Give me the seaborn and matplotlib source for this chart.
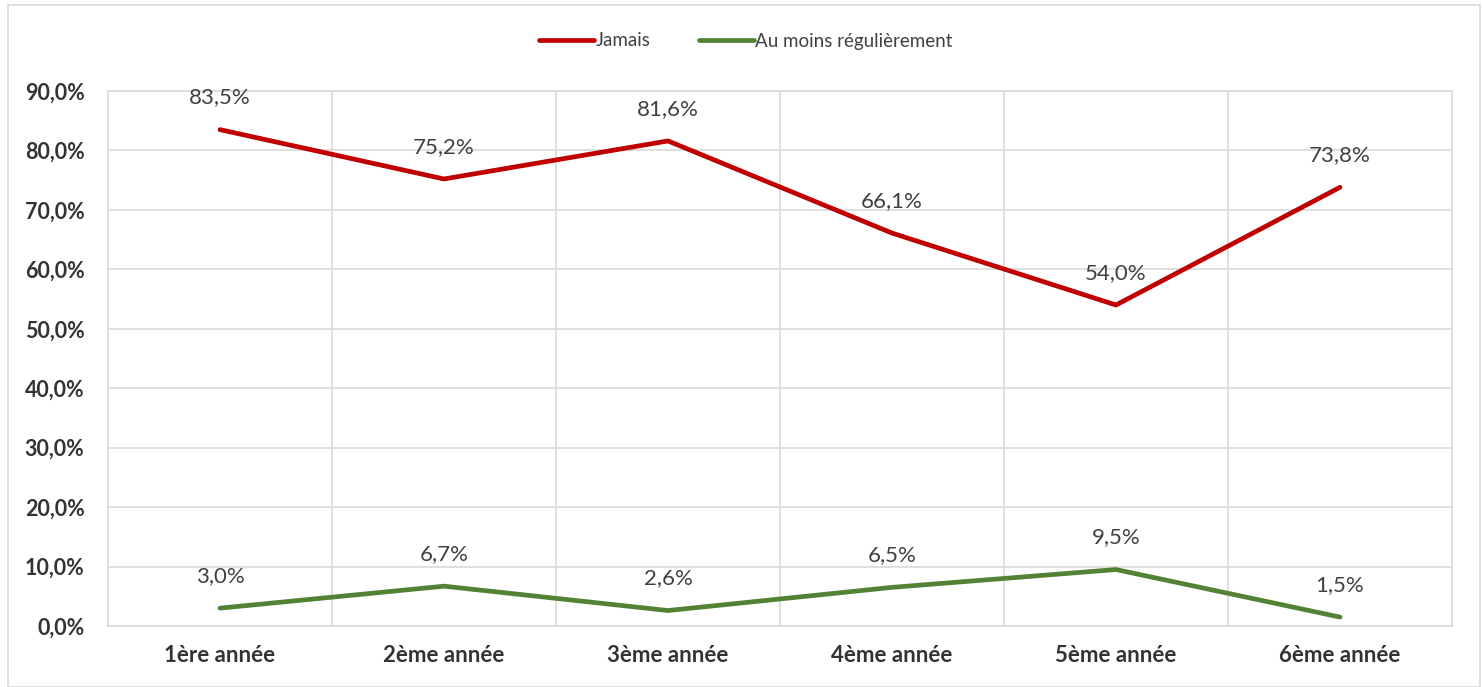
import matplotlib
matplotlib.use("Agg")
import matplotlib.pyplot as plt
import seaborn as sns
import pandas as pd
from matplotlib.patches import Rectangle
from matplotlib.ticker import FuncFormatter, FixedLocator

categories = ["1ère année", "2ème année", "3ème année", "4ème année", "5ème année", "6ème année"]
jamais = [83.5, 75.2, 81.6, 66.1, 54.0, 73.8]
regulier = [3.0, 6.7, 2.6, 6.5, 9.5, 1.5]
series_names = ["Jamais", "Au moins régulièrement"]
colors = ["#C00000", "#548235"]

sns.set_theme(style="white")
plt.rcParams['font.family'] = ['Lato', 'DejaVu Sans']

rows = []
for i, c in enumerate(categories):
    rows.append({"idx": i, "cat": c, "serie": series_names[0], "val": jamais[i]})
    rows.append({"idx": i, "cat": c, "serie": series_names[1], "val": regulier[i]})
df = pd.DataFrame(rows)

fig = plt.figure(figsize=(14.82, 6.87), dpi=100)
ax = fig.add_axes([108/1482, 61/687, (1452-108)/1482, (626-91)/687])

sns.lineplot(data=df, x="idx", y="val", hue="serie", palette=colors,
             linewidth=3.4, ax=ax, legend=True, solid_capstyle="round")

ax.set_xlim(-0.5, len(categories) - 0.5)
ax.set_ylim(0, 90)
ax.set_yticks(range(0, 91, 10))
ax.yaxis.set_major_formatter(FuncFormatter(lambda v, p: f"{v:.1f}".replace(".", ",") + "%"))
ax.set_xticks(range(len(categories)))
ax.set_xticklabels(categories)
ax.xaxis.set_minor_locator(FixedLocator([i + 0.5 for i in range(len(categories) - 1)]))
ax.grid(True, axis="y", which="major", color="#D9D9D9", linewidth=1.2)
ax.grid(True, axis="x", which="minor", color="#D9D9D9", linewidth=1.2)
ax.grid(False, axis="x", which="major")
ax.set_axisbelow(True)
for s in ax.spines.values():
    s.set_color("#D9D9D9")
    s.set_linewidth(1.2)
ax.tick_params(axis="both", which="both", length=0)
ax.tick_params(axis="y", pad=17)
ax.tick_params(axis="x", pad=14)
for lab in ax.get_yticklabels():
    lab.set_fontweight("bold")
    lab.set_fontsize(15.5)
    lab.set_color("#333333")
for lab in ax.get_xticklabels():
    lab.set_fontweight("bold")
    lab.set_fontsize(16)
    lab.set_color("#333333")
ax.set_xlabel("")
ax.set_ylabel("")

for vals in (jamais, regulier):
    for i, v in enumerate(vals):
        ax.annotate(f"{v:.1f}".replace(".", ",") + "%", (i, v), xytext=(0, 16),
                    textcoords="offset points", ha="center", va="bottom",
                    fontsize=16, color="#404040")

handles, labels = ax.get_legend_handles_labels()
ax.get_legend().remove()
leg = fig.legend(handles, labels, loc="center", bbox_to_anchor=(0.5 + 5/1482, 1 - 41/687),
                 ncol=2, frameon=False, fontsize=13.5, handlelength=2.9,
                 handletextpad=0.1, columnspacing=2.6)
for t in leg.get_texts():
    t.set_color("#404040")
for h in leg.get_lines():
    h.set_linewidth(3.4)

fig.patches.append(Rectangle((8/1482, 0), (1480-8)/1482, (687-5)/687, transform=fig.transFigure,
                             fill=False, edgecolor="#D9D9D9", linewidth=1.2))

fig.savefig("out.png", dpi=100)
